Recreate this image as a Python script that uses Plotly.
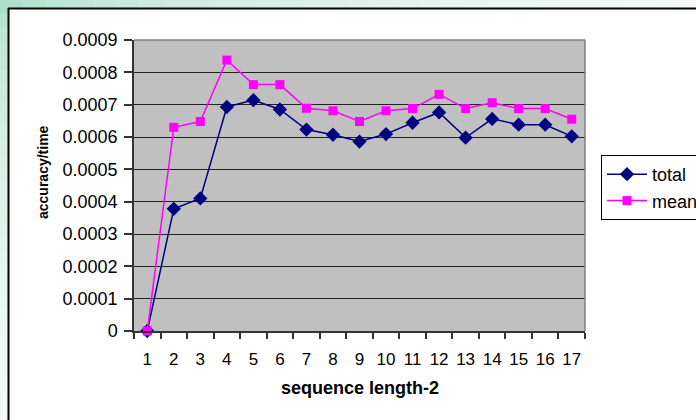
import plotly.graph_objects as go

categories = [str(i) for i in range(1, 18)]
total = [0, 0.000378, 0.00041, 0.000693, 0.000714, 0.000685, 0.000623, 0.000607,
         0.000586, 0.000609, 0.000644, 0.000676, 0.000598, 0.000656, 0.000638,
         0.000638, 0.000602]
mean = [0, 0.00063, 0.000648, 0.000838, 0.000762, 0.000762, 0.000689, 0.000681,
        0.000648, 0.000681, 0.000688, 0.000732, 0.000688, 0.000706, 0.000688,
        0.000688, 0.000655]
y_tickvals = [0, 0.0001, 0.0002, 0.0003, 0.0004, 0.0005, 0.0006, 0.0007, 0.0008, 0.0009]
y_ticktext = ["0", "0.0001", "0.0002", "0.0003", "0.0004", "0.0005", "0.0006",
              "0.0007", "0.0008", "0.0009"]

W, H = 696, 420
L, R, T, B = 134, 111, 40, 89
PW, PH = W - L - R, H - T - B


def px(x):
    return (x - L) / PW


def py(y):
    return (H - B - y) / PH


FONT = "Arial, Liberation Sans, sans-serif"

fig = go.Figure()
fig.add_trace(go.Scatter(
    x=categories, y=total, name="total", mode="lines+markers",
    line=dict(color="#000080", width=1.5),
    marker=dict(symbol="diamond", size=11, color="#000080"),
    legendgroup="a", cliponaxis=False,
))
fig.add_trace(go.Scatter(
    x=categories, y=mean, name="mean", mode="lines+markers",
    line=dict(color="#FF00FF", width=1.5),
    marker=dict(symbol="square", size=9, color="#FF00FF"),
    legendgroup="b", cliponaxis=False,
))

shapes = []
# slide background gradient strips (top and left)
c0 = (160, 220, 196)
c1 = (246, 251, 249)
N = 30
for i in range(N):
    t0 = i / N
    t1 = (i + 1) / N
    f = ((t0 + t1) / 2) ** 0.45
    col = "rgb(%d,%d,%d)" % tuple(int(c0[k] + (c1[k] - c0[k]) * f) for k in range(3))
    shapes.append(dict(type="rect", xref="paper", yref="paper",
                       x0=px(W * t0), x1=px(W * t1 + 1), y0=py(0), y1=py(8),
                       fillcolor=col, line=dict(width=0), layer="below"))
    shapes.append(dict(type="rect", xref="paper", yref="paper",
                       x0=px(0), x1=px(8), y0=py(H * t0), y1=py(H * t1 + 1),
                       fillcolor=col, line=dict(width=0), layer="below"))
# chart area border
shapes.append(dict(type="line", xref="paper", yref="paper", x0=px(8), x1=px(W + 5),
                   y0=py(8.5), y1=py(8.5), line=dict(color="black", width=2)))
shapes.append(dict(type="line", xref="paper", yref="paper", x0=px(8.5), x1=px(8.5),
                   y0=py(8), y1=py(H + 5), line=dict(color="black", width=2)))
# plot area top/right border
shapes.append(dict(type="line", xref="paper", yref="paper", x0=0, x1=1, y0=1, y1=1,
                   line=dict(color="#808080", width=1.5)))
shapes.append(dict(type="line", xref="paper", yref="paper", x0=1, x1=1, y0=0, y1=1,
                   line=dict(color="#808080", width=1.5)))

annotations = [
    dict(text="<b>accuracy/time</b>", xref="paper", yref="paper",
         x=px(43), y=py(172), textangle=-90, showarrow=False,
         xanchor="center", yanchor="middle",
         font=dict(family=FONT, size=14, color="black")),
    dict(text="<b>sequence length-2</b>", xref="paper", yref="paper",
         x=px(360), y=py(388), showarrow=False,
         xanchor="center", yanchor="middle",
         font=dict(family=FONT, size=18, color="black")),
]

fig.update_layout(
    width=W, height=H,
    margin=dict(l=L, r=R, t=T, b=B, pad=0, autoexpand=False),
    paper_bgcolor="white",
    plot_bgcolor="#C0C0C0",
    font=dict(family=FONT, size=18, color="black"),
    shapes=shapes,
    annotations=annotations,
    showlegend=True,
    legend=dict(
        x=px(601), xanchor="left", y=py(155), yanchor="top",
        bgcolor="white", bordercolor="black", borderwidth=1,
        font=dict(family=FONT, size=18, color="black"),
        tracegroupgap=0, traceorder="grouped", itemwidth=40,
    ),
    xaxis=dict(
        type="category", tickson="boundaries", ticks="outside", ticklen=6,
        range=[-0.5, 16.5], tickangle=0,
        tickcolor="#333333", tickwidth=1.5,
        showline=True, linecolor="#333333", linewidth=1.5,
        showgrid=False, zeroline=False,
        ticklabelstandoff=12,
        tickfont=dict(family=FONT, size=17, color="black"),
    ),
    yaxis=dict(
        range=[0, 0.0009], tickvals=y_tickvals, ticktext=y_ticktext,
        ticks="outside", ticklen=8, tickcolor="#333333", tickwidth=1.5,
        showline=True, linecolor="#333333", linewidth=1.5,
        showgrid=True, gridcolor="#222222", gridwidth=1.2, zeroline=False,
        ticklabelstandoff=3,
        tickfont=dict(family=FONT, size=18, color="black"),
    ),
)

fig.write_html("out.html")
